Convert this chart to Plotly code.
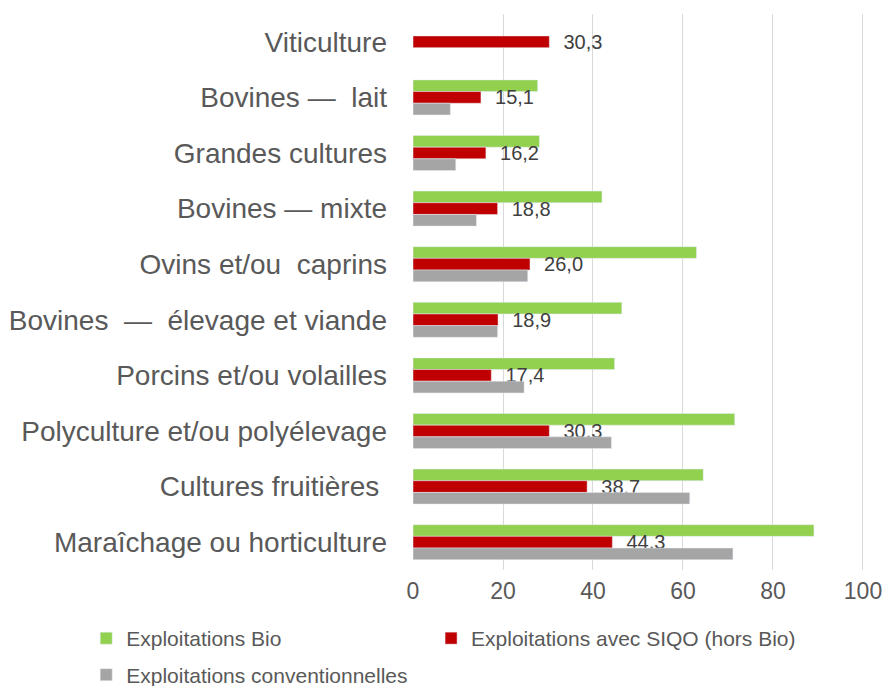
import plotly.graph_objects as go

CATEGORIES = [
    "Viticulture",
    "Bovines —  lait",
    "Grandes cultures",
    "Bovines — mixte",
    "Ovins et/ou  caprins",
    "Bovines  —  élevage et viande",
    "Porcins et/ou volailles",
    "Polyculture et/ou polyélevage",
    "Cultures fruitières ",
    "Maraîchage ou horticulture",
]
BIO = [None, 27.7, 28.1, 42.0, 63.0, 46.4, 44.8, 71.5, 64.5, 89.1]
SIQO = [30.3, 15.1, 16.2, 18.8, 26.0, 18.9, 17.4, 30.3, 38.7, 44.3]
CONV = [None, 8.3, 9.5, 14.1, 25.5, 18.8, 24.7, 44.1, 61.5, 71.1]
X_TICKS = [0, 20, 40, 60, 80, 100]

GREEN = "#92D050"
RED = "#C00000"
GREY = "#A5A5A5"
TEXT = "#595959"
FONT = "Liberation Sans, Arial, sans-serif"

fig = go.Figure()
fig.add_trace(go.Bar(y=CATEGORIES, x=BIO, orientation="h", name="Exploitations Bio",
                     marker_color=GREEN, legend="legend"))
fig.add_trace(go.Bar(y=CATEGORIES, x=SIQO, orientation="h", name="Exploitations avec SIQO (hors Bio)",
                     marker_color=RED, legend="legend2",
                     texttemplate="\u00a0\u00a0%{x:.1f}", textposition="outside",
                     textfont=dict(size=20, color="#404040", family=FONT),
                     constraintext="none", cliponaxis=False))
fig.add_trace(go.Bar(y=CATEGORIES, x=CONV, orientation="h", name="Exploitations conventionnelles",
                     marker_color=GREY, legend="legend3"))

legend_font = dict(size=21, color=TEXT, family=FONT)

fig.update_layout(
    width=883,
    height=686,
    barmode="group",
    bargap=0.37,
    bargroupgap=0,
    separators=", ",
    paper_bgcolor="white",
    plot_bgcolor="white",
    font=dict(family=FONT, color=TEXT),
    margin=dict(l=413, r=18, t=14, b=116, autoexpand=False),
    showlegend=True,
    legend=dict(orientation="h", x=-0.723, xanchor="left", y=-0.0863, yanchor="top",
                font=legend_font, itemwidth=30),
    legend2=dict(orientation="h", x=0.04, xanchor="left", y=-0.0863, yanchor="top",
                 font=legend_font, itemwidth=30),
    legend3=dict(orientation="h", x=-0.723, xanchor="left", y=-0.152, yanchor="top",
                 font=legend_font, itemwidth=30),
)
fig.update_xaxes(
    range=[0, 100.45], tickvals=X_TICKS, showgrid=True, gridcolor="#D9D9D9", gridwidth=1,
    zeroline=False, showline=False, tickfont=dict(size=23, color=TEXT, family=FONT),
    ticks="", ticklabelstandoff=5, ticklabeloverflow="allow",
)
fig.update_yaxes(
    autorange="reversed", showgrid=False, showline=False, ticks="",
    tickfont=dict(size=28, color=TEXT, family=FONT), ticklabelstandoff=25,
)

# drop the default 8px body margin so the figure fills the window exactly
fig.write_html("out.html", config={"displayModeBar": False},
               post_script="document.body.style.margin = '0';")
